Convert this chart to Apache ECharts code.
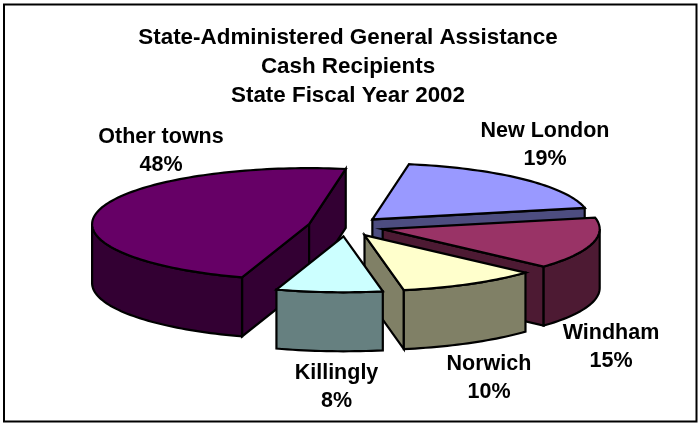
<!DOCTYPE html>
<html><head><meta charset="utf-8">
<style>html,body{margin:0;padding:0;background:#fff}#c{width:698px;height:423px}</style>
<script src="https://cdn.jsdelivr.net/npm/echarts@6/dist/echarts.min.js"></script>
</head><body><div id="c"></div>
<script>
// Data (shares; labels show them rounded)
var categories = ['Other towns','New London','Windham','Norwich','Killingly'];
var shares = [47.7,19,15,10.4,7.9];
var titleLines = ['State-Administered General Assistance','Cash Recipients','State Fiscal Year 2002'];
// Styles
var topColors = ['#660066','#9999FF','#993366','#FFFFCC','#CCFFFF'];
var sideColors = ['#330033','#4D4D80','#4D1A33','#808066','#668080'];
var labelAnchors = [[161,151],[545,145.5],[611,347],[489,378.5],[336.5,387]];
var pie = {cx:346,cy:226.5,a:217,b:56,depth:59,explode:38,startDeg:108};

var total = shares.reduce(function(s,v){return s+v;},0);
var rad = Math.PI/180;
var slices = [], cum = pie.startDeg;
shares.forEach(function(v,i){
  var sweep = v/total*360;
  slices.push({i:i,start:cum,end:cum+sweep,mid:cum+sweep/2});
  cum += sweep;
});
var order = slices.slice().sort(function(p,q){return Math.sin(p.mid*rad)-Math.sin(q.mid*rad);});

function point(c,t,dy){return [c[0]+pie.a*Math.cos(t*rad), c[1]+pie.b*Math.sin(t*rad)+(dy||0)];}
function arc(c,s,e,dy){var n=Math.max(2,Math.ceil((e-s)/1.5)),p=[];for(var k=0;k<=n;k++){p.push(point(c,s+(e-s)*k/n,dy));}return p;}
var stroke = {stroke:'#000',lineWidth:2.2,lineJoin:'miter'};
function poly(points,fill){return {type:'polygon',shape:{points:points},style:Object.assign({fill:fill},stroke)};}

function renderSlice(params,api){
  var s = slices[api.value(0)], i = s.i, d = pie.depth;
  var c = [pie.cx+pie.explode*Math.cos(s.mid*rad), pie.cy+pie.explode*pie.b/pie.a*Math.sin(s.mid*rad)];
  var side = sideColors[i], kids = [];
  // radial walls: those whose outward normal faces the viewer
  [[s.start,1],[s.end,-1]].forEach(function(w){
    var p = point(c,w[0]);
    var ny = -(p[0]-c[0])*w[1];
    if (ny>0){ kids.push(poly([c,p,[p[0],p[1]+d],[c[0],c[1]+d]],side)); }
  });
  // outer wall: visible on the front half of the ellipse
  for (var k=0;k<2;k++){
    var lo=Math.max(s.start,k*360), hi=Math.min(s.end,k*360+180);
    if (hi>lo){ kids.push(poly(arc(c,lo,hi,0).concat(arc(c,lo,hi,d).reverse()),side)); }
  }
  kids.push(poly([c].concat(arc(c,s.start,s.end,0)),topColors[i]));
  var t = labelAnchors[i];
  kids.push({type:'text',x:t[0],y:t[1],z2:10,style:{text:categories[i]+'\n'+Math.round(shares[i])+'%',fill:'#000',font:'bold 21.5px "Liberation Sans"',align:'center',verticalAlign:'middle',lineHeight:28}});
  return {type:'group',children:kids};
}

var chart = echarts.init(document.getElementById('c'),null,{renderer:'canvas'});
chart.setOption({
  animation:false,
  backgroundColor:'#fff',
  title:{text:titleLines.join('\n'),left:343,top:18,textAlign:'center',
    textStyle:{fontFamily:'Liberation Sans',fontWeight:'bold',fontSize:22.4,lineHeight:29,color:'#000',align:'center'}},
  graphic:[{type:'rect',shape:{x:4,y:4.5,width:692.5,height:417},style:{fill:'none',stroke:'#000',lineWidth:2},silent:true}],
  series:[{type:'custom',coordinateSystem:'none',silent:true,clip:false,
    data:order.map(function(s){return [s.i,shares[s.i]];}),
    renderItem:renderSlice}]
});
</script></body></html>
